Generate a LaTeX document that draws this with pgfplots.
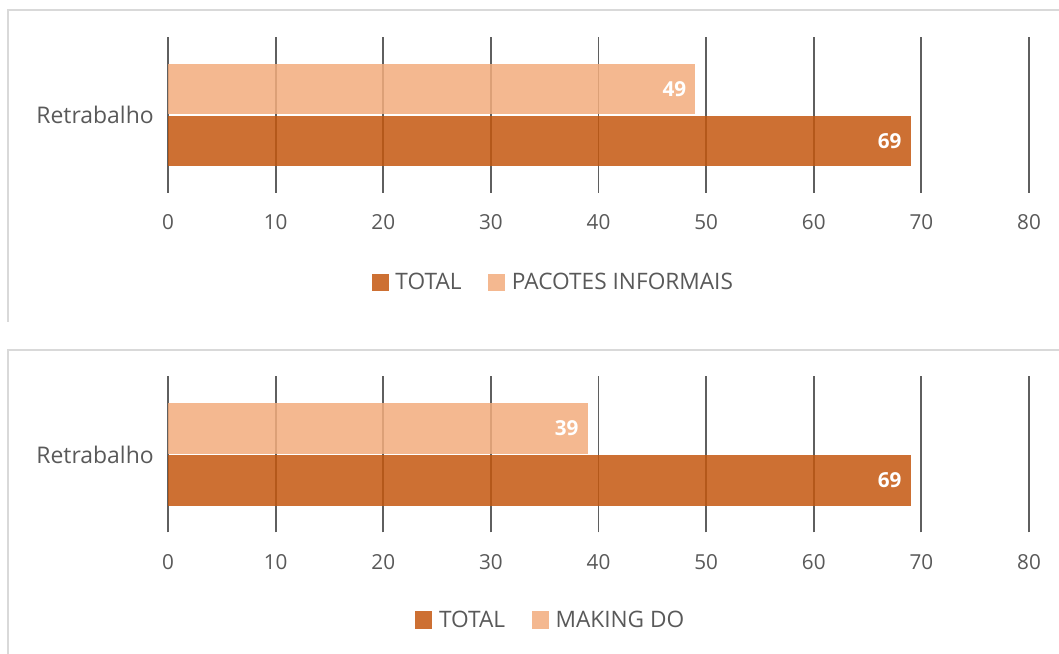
\documentclass[border=0pt]{standalone}
\usepackage{fontspec}
\setmainfont{Open Sans}
\usepackage{pgfplots}
\pgfplotsset{compat=1.18}
\definecolor{tot}{RGB}{196,87,15}
\definecolor{pac}{RGB}{242,172,124}
\definecolor{txt}{RGB}{89,89,89}
\definecolor{grd}{RGB}{95,95,95}
\definecolor{frm}{RGB}{217,217,217}
\pgfplotsset{myax/.style={
  scale only axis, width=645.75pt, height=117pt,
  xmin=0, xmax=80, ymin=-1.5, ymax=1.5,
  xtick={0,10,...,80}, ytick={0}, yticklabels={Retrabalho},
  axis line style={draw=none}, major tick length=0pt,
  xmajorgrids, grid style={grd, line width=1.4pt},
  xticklabel style={font=\fontsize{15.5}{17}\selectfont, text=txt},
  yticklabel style={font=\fontsize{17.2}{19}\selectfont, text=txt},
  /pgf/number format/assume math mode=true,
  xticklabel style={anchor=center, inner sep=0pt, yshift=-22pt},
  yticklabel style={anchor=east, inner sep=0pt, xshift=-10.5pt},
  legend columns=2,
  legend style={draw=none, fill=none, font=\fontsize{17}{19}\selectfont, text=txt,
    /tikz/every even column/.append style={column sep=18pt},
    /tikz/every odd column/.append style={column sep=3pt}},
  legend image code/.code={\fill[##1, draw=none] (0pt,-6.4pt) rectangle (12.75pt,6.4pt);},
  bar width=0.97,
  dl/.style={nodes near coords, every node near coord/.append style={anchor=east, inner sep=0pt, xshift=-6.75pt, yshift=##1, text=white, text opacity=1, font=\fontsize{15.5}{17}\selectfont\bfseries}},
}}
\begin{document}
\begin{tikzpicture}
\path[use as bounding box] (0,0) rectangle (794.25pt,489.75pt);
\draw[frm, line width=1pt] (6pt,248.25pt) -- (6pt,482.25pt) -- (800pt,482.25pt);
\draw[frm, line width=1pt] (6pt,-5pt) -- (6pt,227.25pt) -- (800pt,227.25pt);
\begin{axis}[myax, at={(126pt,345pt)}, anchor=south west,
  legend style={at={(0.448,-0.571)}, anchor=center}]
\addplot[xbar, bar shift=-0.5, fill=tot, draw=none, fill opacity=0.85, dl=-19.5pt]
  coordinates {(69,0)};
\addlegendentry{TOTAL}
\addplot[xbar, bar shift=0.5, fill=pac, draw=none, fill opacity=0.85, dl=19.5pt]
  coordinates {(49,0)};
\addlegendentry{PACOTES INFORMAIS}
\end{axis}
\begin{axis}[myax, at={(126pt,90.4pt)}, anchor=south west,
  legend style={at={(0.445,-0.561)}, anchor=center}]
\addplot[xbar, bar shift=-0.5, fill=tot, draw=none, fill opacity=0.85, dl=-19.5pt]
  coordinates {(69,0)};
\addlegendentry{TOTAL}
\addplot[xbar, bar shift=0.5, fill=pac, draw=none, fill opacity=0.85, dl=19.5pt]
  coordinates {(39,0)};
\addlegendentry{MAKING DO}
\end{axis}
\end{tikzpicture}
\end{document}
